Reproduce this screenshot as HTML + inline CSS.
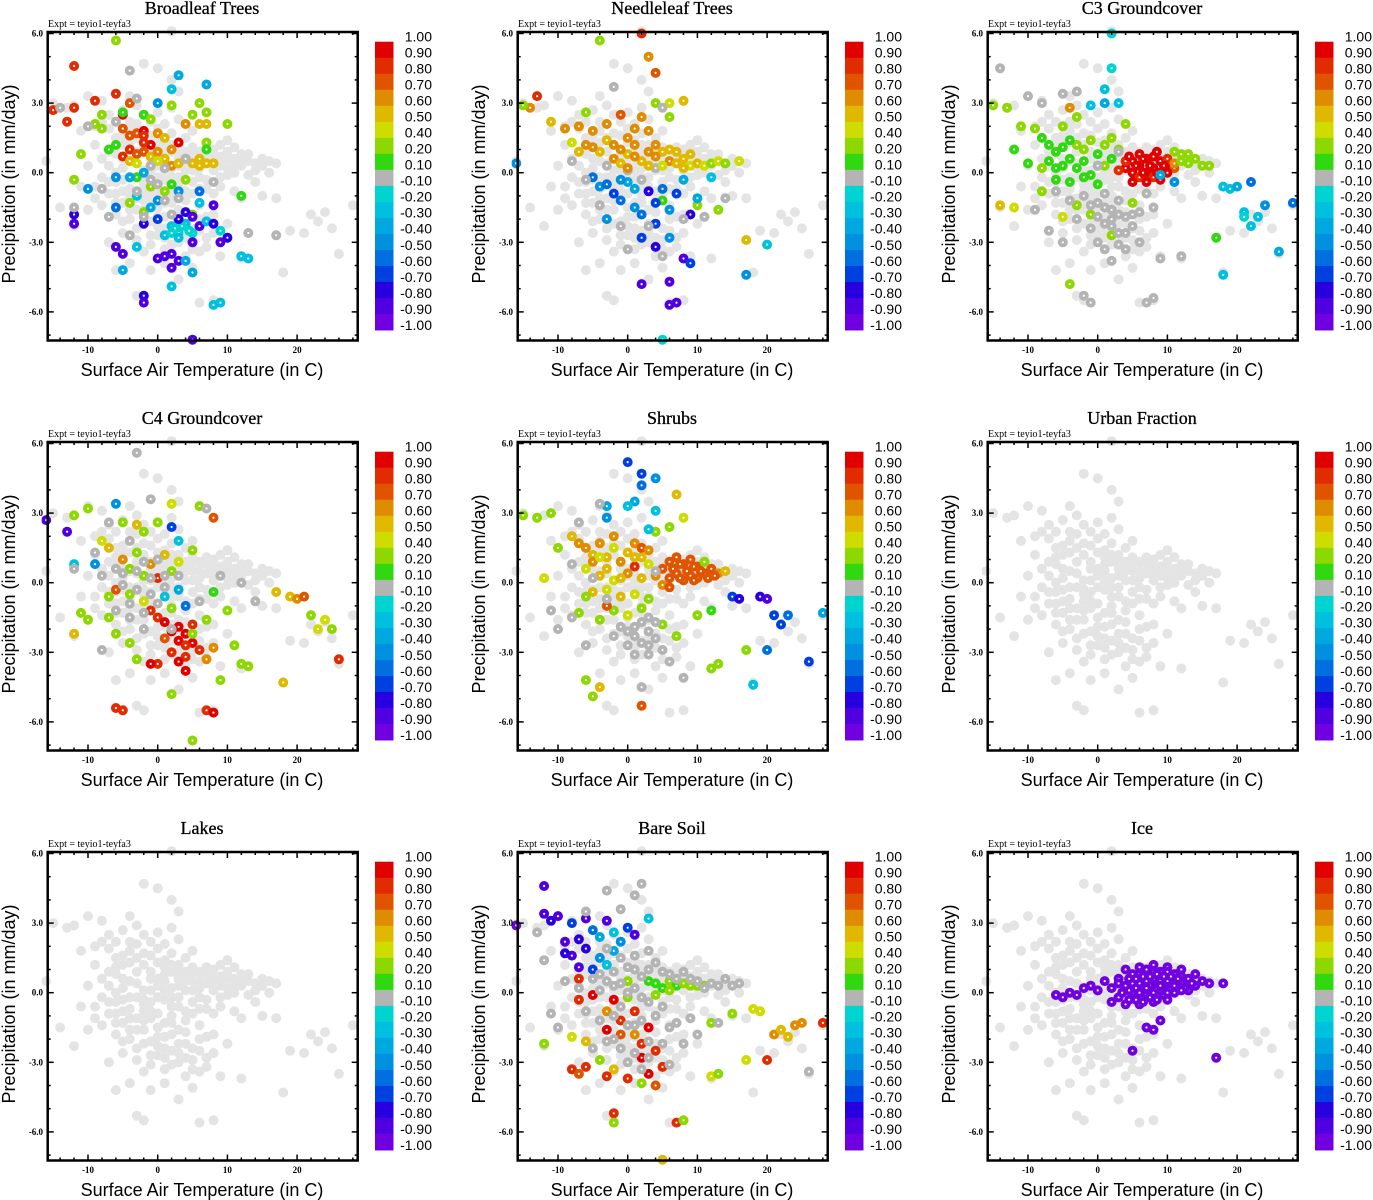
<!DOCTYPE html>
<html><head><meta charset="utf-8">
<style>
html,body{margin:0;padding:0;background:#fff;}
svg{display:block;}
</style></head>
<body>
<svg id="fig" width="1373" height="1200" viewBox="0 0 1373 1200" xmlns="http://www.w3.org/2000/svg"></svg>
<script>
// ---------- data ----------
const panelTitles = ["Broadleaf Trees","Needleleaf Trees","C3 Groundcover","C4 Groundcover","Shrubs","Urban Fraction","Lakes","Bare Soil","Ice"];
const xTicks = [-10,0,10,20];
const yTicks = [6.0,3.0,0.0,-3.0,-6.0];
const yTickLabels = ["6.0","3.0","0.0","-3.0","-6.0"];
const cbarLabels = ["1.00","0.90","0.80","0.70","0.60","0.50","0.40","0.20","0.10","-0.10","-0.20","-0.30","-0.40","-0.50","-0.60","-0.70","-0.80","-0.90","-1.00"];
const cbarLevels = [1.0,0.9,0.8,0.7,0.6,0.5,0.4,0.2,0.1,-0.1,-0.2,-0.3,-0.4,-0.5,-0.6,-0.7,-0.8,-0.9,-1.0];
const cbarColors = ["#e00000","#e02c00","#e05400","#e08c00","#e0b800","#cedc00","#8cd800","#30d810","#b4b4b4","#00d4d0","#00c0e0","#00a8e0","#0090e0","#0070e0","#0040e0","#2800e0","#5000e0","#7000e0"];

// shared background cloud [temp, precip]
const cloud = [[-15,3],[-13,2.8],[-12,2.9],[-10,3.3],[-8,3.1],[-11,1.8],[-9,2],[-7,2.5],[-6,2.2],[-5,2.7],[-4,3.3],[-3,2.9],[-2,4.7],[0,4.5],[2,4],[2,6.1],[3,3.5],[-6,1.5],[-5,1.2],[-4,1.8],[-3,1.5],[-2,1.2],[-1,1.6],[0,1.9],[1,1.4],[2,1.7],[3,1.2],[4,1.5],[5,1.1],[6,0.9],[7,0.8],[8,1],[9,0.7],[10,0.9],[11,0.6],[12,0.8],[13,0.5],[14,0.4],[15,0.3],[16,0.5],[17,0.4],[-8,0.6],[-7,0.3],[-6,0.8],[-5,0.2],[-4,0.5],[-3,0.9],[-2,0.1],[-1,0.6],[0,0.3],[1,0.8],[2,0.2],[3,0.6],[4,0.1],[5,0.5],[6,0.2],[7,0.4],[8,0.1],[9,0.3],[10,0.2],[11,0],[12,0.3],[13,-0.1],[14,-0.4],[-9,-0.6],[-7,-0.4],[-6,-0.9],[-5,-0.3],[-4,-0.7],[-3,-0.2],[-2,-0.8],[-1,-0.4],[0,-0.9],[1,-0.3],[2,-0.6],[3,-0.2],[4,-0.8],[5,-0.4],[6,-0.7],[7,-0.3],[8,-0.9],[9,-0.6],[11,-0.8],[12,-1.1],[15,-1],[17,-1.1],[19,-2.5],[21,-2.6],[22,-1.8],[23,-2.1],[24,-1.7],[25,-2.4],[26,-3.5],[28,-1.4],[18,-4.3],[12,-3.7],[-8,-1.4],[-6,-1.8],[-5,-1.3],[-4,-2],[-3,-1.6],[-2,-1.2],[-1,-2.1],[0,-1.5],[1,-1.9],[2,-1.3],[3,-2.2],[4,-1.7],[5,-2.4],[6,-1.4],[7,-1.9],[8,-2.6],[10,-2.2],[-12,-2.3],[-10,-1.6],[-7,-3],[-5,-2.6],[-3,-2.9],[-2,-3.4],[0,-2.7],[1,-3.3],[2,-2.5],[3,-3],[4,-3.6],[5,-2.9],[6,-3.4],[7,-2.8],[9,-3.6],[-4,-3.9],[-1,-4.2],[1,-3.9],[3,-4.6],[5,-4.1],[6,-5.6],[8,-5.5],[-2,-5.5],[-3,-5.3],[-6,-4.2],[-14,-1.5],[-16,0.5],[-1,0.9],[1,1.1],[3,0.3],[5,0.8],[-2,-0.3],[0,-0.2],[2,-1],[4,-1.2],[-1,-1.1],[1,-2.4],[3,-1.6],[-4,-1.1],[6,0.5],[8,0.6],[10,0.6],[12,0.5],[9,1.2],[11,1.1],[-6,0],[-8,-0.2]];
// extra density in the core of the cloud
const cloudCore = [[-7,1.9],[-5,1.6],[-3,2.1],[-1,2.2],[1,2.1],[3,2.3],[5,1.8],[-6,1.1],[-4,1.3],[-2,1.7],[0,1.3],[2,1.2],[4,0.9],[-7,0.9],[-5,0.6],[-3,0.4],[-1,0.1],[1,0.5],[3,0.9],[5,0.1],[7,1.1],[9,0.5],[11,0.3],[13,0.8],[15,0.6],[-6,-0.4],[-4,-0.2],[-2,-0.5],[0,0.6],[2,-0.2],[4,0.5],[6,-0.2],[8,0.3],[10,-0.1],[-7,-0.9],[-5,-0.8],[-3,-1.1],[-1,-0.8],[1,-1.3],[3,-0.6],[5,-0.9],[7,-0.7],[9,-0.2],[-6,-1.3],[-4,-1.6],[-2,-1.6],[0,-1.9],[2,-1.8],[4,-2.2],[6,-2],[8,-1.8],[-5,-2.1],[-3,-2.4],[-1,-2.7],[1,-2.8],[3,-2.6],[5,-3.3],[7,-3.2],[-2,-2.2],[0,-2.3],[2,-3.1],[4,-2.8],[6,-2.5],[-1,-3.1],[1,0.1],[2,0.9],[-4,2.2],[-2,2.5],[0,2.6],[2,2.8],[-8,2.2],[-9,1.2],[-10,0.3],[-11,-0.6],[-9,-1.1],[14,0.1],[16,0],[10,1.4]];

// colored points per panel [temp, precip, correlation]
const p1 = [[-15,2.7,.8],[-12,4.6,.8],[-12,2.8,.8],[-13,2.2,.8],[-9,3.1,.8],[-6,3.4,.8],[-5,2.5,.9],[-4,3,.7],[-5,1.9,.7],[-4,1.6,.7],[-3,1.7,.7],[-2,1.8,.9],[-1,1.2,.9],[-2,1.6,.8],[-4,1,.8],[-3,0.8,.7],[-5,0.7,.8],[-2,0.9,.7],[0,1.7,.6],[1,1.5,.5],[2,1,.6],[3,1.3,.9],[4,2.1,.6],[-1,0.7,.5],[0,0.9,.6],[1,0.6,.5],[2,0.3,.6],[5,0.4,.5],[6,0.3,.5],[7,0.4,.5],[8,0.4,.5],[6,0.6,.5],[6,2.1,.5],[7,2.1,.5],[-4,0.5,.5],[-3,0.4,.4],[-1,0.3,.5],[0,0.5,.45],[3,0.4,.5],[4,0.6,.5],[-2,1.3,.8],[-6,5.7,.3],[-8,2.5,.2],[-9,2.1,.2],[-8,1.9,.2],[-11,0.8,.2],[-7,1,.15],[-6,1.2,.15],[-5,2.6,.15],[-2,2.5,.15],[-1,2.3,.2],[2,2.9,.3],[6,3,.3],[5,2.5,.3],[7,2.6,.2],[7,1.3,.3],[7,1,.15],[10,2.1,.3],[12,-1,.15],[-12,-0.3,.2],[-3,-0.2,.15],[-1,-0.6,.2],[1,-0.8,.2],[2,-0.5,.15],[4,-0.3,.2],[5,-1.8,.3],[6,-2.3,.15],[3,-2,.3],[-4,-1.3,.3],[-2,-1.7,.3],[-10,-0.7,-.5],[-12,-2.2,-.9],[-12,-1.8,-.8],[-6,-1.5,-.6],[-4,-0.2,-.4],[-3,-1,-.3],[-2,-2.2,-.8],[-1,-1.5,-.4],[0,-1.2,-.5],[0,-2,-.7],[1,-2.7,-.3],[2,-2.3,-.3],[3,-2.6,-.2],[4,-2.2,-.3],[5,-2.6,-.2],[2.5,-2.4,-.2],[3.5,-2.3,-.2],[4.5,-2.5,-.2],[2,-2.6,-.2],[3,-2.8,-.25],[3,-2,-.8],[4,-1.7,-.8],[5,-1.9,-.9],[6,-2.3,-.9],[5,-3,-.9],[6,-1.3,-.3],[7,-2.1,-.3],[8,-2.2,-.8],[8,-1.4,-.9],[10,-2.8,-.8],[9,-3,-.9],[9,-2.5,-.2],[12,-3.6,-.3],[13,-3.7,-.3],[-6,-3.2,-.9],[-5,-3.5,-.9],[-3,-3.2,-.3],[-5,-4.2,-.4],[0,-3.7,-.9],[1,-3.6,-.9],[2,-3.5,-.9],[2,-4.1,-.9],[3,-3.8,-.9],[4,-3.8,-.4],[5,-4.3,-.4],[2,-4.9,-.3],[-2,-5.3,-.8],[-2,-5.6,-.9],[8,-5.7,-.3],[9,-5.6,-.3],[5,-7.2,-.9],[-2,0,-.4],[-6,-0.2,-.5],[3,4.2,-.4],[7,3.8,-.4],[0,3,-.5],[3,-0.8,-.5],[6,-0.8,-.6],[2,3.6,-.3],[-4,4.4,0],[-3,3.2,0],[-14,2.8,0],[-10,2,0],[-6,2.2,0],[-12,-1.5,0],[-7,-1.9,0],[-8,-0.7,0],[-4,-2.7,0],[-3,-0.8,0],[-1,-0.3,0],[1,-1.2,0],[2,-1.8,0],[3,-1.1,0],[1,0.2,0],[-1,0.3,0],[4,0.6,0],[8,-0.4,0],[13,-2.6,0],[17,-2.7,0],[-2,-1.9,0],[0,-0.5,0]];
const p2 = [[-14,2.8,.6],[-13,3.3,.8],[-11,2.2,.5],[-9,1.9,.6],[-7,2,.6],[-5,1.8,.6],[-3,2.1,.6],[-1,2.5,.7],[0,1.5,.6],[1,1.9,.6],[2,2.4,.6],[3,1.8,.6],[4,1.2,.6],[5,0.9,.5],[-6,1.2,.6],[-4,0.9,.5],[-2,0.6,.6],[0,0.8,.5],[2,0.5,.5],[3,0.9,.6],[6,0.5,.6],[7,0.4,.5],[8,0.6,.5],[9,0.3,.4],[10,0.4,.5],[11,0.3,.4],[12,0.4,.3],[13,0.5,.4],[14,0.4,.3],[16,0.5,.4],[-8,1.3,.4],[-6,2.6,.2],[-4,5.7,.2],[2,6,.8],[3,5,.6],[4,4.3,.7],[6,3,.4],[4,3,.2],[6,2.4,.3],[8,3.1,.5],[-15,2.9,.2],[17,-2.9,.5],[10,-1.4,.3],[13,-1.6,.3],[5,-1.2,.15],[-16,0.4,-.5],[-5,-0.2,-.6],[-4,-0.6,-.5],[-2,-0.9,-.7],[-1,-1.2,-.6],[0,-0.4,-.4],[1,-1.5,-.5],[2,-1.8,-.6],[3,-0.8,-.8],[4,-1.3,-.7],[5,-0.7,-.6],[6,-1.6,-.5],[7,-0.9,-.7],[8,-0.3,-.4],[9,-1.8,-.8],[2,-2.8,-.7],[4,-2.2,-.7],[4,-3.2,-.8],[6,-2.8,-.5],[8,-3.7,-.9],[9,-3.9,-.7],[6,-4.7,-.9],[2,-4.8,-.9],[6,-5.7,-.9],[7,-5.6,-.9],[5,-7.2,-.2],[17,-4.4,-.5],[20,-3.1,-.3],[12,-0.2,-.3],[-3,-2,-.5],[10,-1.1,-.4],[-8,0.5,0],[-6,-0.3,0],[-3,0.3,0],[0,0.1,0],[2,-0.3,0],[4,0.2,0],[-4,-1.4,0],[-1,-2.3,0],[3,-2.3,0],[5,-3.6,0],[0,-3.3,0],[-2,3.7,0],[5,2.8,0],[11,-1.9,0],[14,-1.1,0],[8,-2,0],[-1,1,.6],[1,1.2,.6],[-3,1.4,.5],[5,0.3,.4],[7,0.9,.5],[9,0.8,.5],[-5,1.1,.6],[-2,1.2,.6],[1,0.7,.6],[3,0.3,.5],[4,0.7,.6],[6,1,.5],[8,0.2,.5],[-1,0.4,.5],[-7,0.9,.5],[0,0.2,.6],[-3,-0.5,-.6],[-1,-0.3,-.5],[1,-0.7,-.4]];
const p3 = [[4,0.2,.9],[5,0.5,.9],[6,0.3,.9],[7,0.6,.9],[8,0.2,.9],[9,0.5,.9],[10,0.3,.9],[5,0,.9],[7,0,.9],[9,0,.9],[6,0.8,.9],[8,0.7,.9],[4,0.5,.8],[3,0.1,.8],[10,0.6,.8],[11,0.2,.7],[11,0.4,.6],[6,-0.2,.8],[8,-0.2,.8],[5.5,0.3,.9],[7.5,0.3,.9],[9.5,0.3,.9],[4.5,0.7,.9],[6.5,0.6,.9],[8.5,0.9,.9],[5,-0.4,.9],[7,-0.4,.9],[9,-0.3,.9],[10,0,.9],[6.5,0,.9],[8.5,0,.9],[-15,2.9,.2],[-13,2.8,.3],[-11,2,.3],[-9,1.9,.2],[-8,1.5,.15],[-7,1.2,.15],[-6,0.9,.15],[-5,1.1,.15],[-4,0.6,.15],[-3,0.2,.15],[-2,0.5,.15],[-1,1.4,.2],[0,0.8,.15],[1,1.2,.2],[2,0.6,.15],[3,1,.3],[-6,-0.3,.15],[-4,-0.4,.15],[-2,-0.2,.15],[0,-0.5,.15],[-8,0.2,.2],[-10,0.4,.15],[-12,1,.15],[-5,2,.3],[-3,2.4,.2],[4,2.1,.2],[12,0.5,.2],[13,0.4,.2],[15,0.3,.2],[16,0.3,.3],[-3,-1.4,.2],[-8,-0.8,.2],[5,-1.3,.2],[-1,-1.8,.2],[2,-2.7,.2],[-5,-1.9,.4],[-14,-1.4,.5],[-12,-1.5,.4],[-4,-4.8,.2],[17,-2.8,.15],[-4,2.8,.6],[-7,0.5,.15],[-5,0.3,.15],[-3,1.2,.2],[1,0.3,.3],[12,0.8,.3],[14,0.6,.3],[-6,0.2,.15],[-4,1.4,.15],[-2,1,.2],[0,0.3,.15],[2,1.5,.2],[-1,-0.1,.15],[13,0.8,.3],[11,0.9,.3],[2,6,-.2],[2,4.5,-.2],[1,3.6,-.3],[3,3,-.3],[9,-0.1,-.4],[11,-0.4,-.5],[18,-0.6,-.3],[19,-0.7,-.3],[20,-0.6,-.4],[22,-0.4,-.6],[21,-1.7,-.3],[21,-1.9,-.2],[22,-2.3,-.3],[23,-1.9,-.3],[24,-1.4,-.5],[26,-3.4,-.4],[18,-4.4,-.3],[28,-1.3,-.6],[-1,2.9,-.3],[1,3,-.4],[-14,4.5,0],[-10,3.3,0],[-8,3,0],[-5,3.4,0],[-3,3.5,0],[-6,-0.8,0],[-4,-1.2,0],[-2,-1,0],[0,-1.3,0],[1,-0.9,0],[2,-1.6,0],[3,-1.2,0],[4,-1.9,0],[5,-2.3,0],[6,-1.7,0],[7,-0.9,0],[8,-1.5,0],[-3,-2,0],[-1,-2.4,0],[0,-3,0],[1,-2.2,0],[3,-2.6,0],[4,-3.3,0],[6,-3,0],[-7,-2.5,0],[-5,-3,0],[-9,-1.6,0],[2,-3.8,0],[9,-3.7,0],[12,-3.6,0],[-2,-5.3,0],[-1,-5.6,0],[7,-5.6,0],[8,-5.4,0],[3,0.9,0],[0,0.3,0],[2,-2,0],[3,-1.8,0],[1,-1.5,0],[4,-2.6,0],[0,-1.9,0],[2,-2.3,0],[3,-3.1,0],[1,-3.3,0],[5,-1.8,0],[-1,-1.4,0]];
const p4 = [[-16,2.7,-.9],[-13,2.2,-.9],[-12,2.9,.3],[-10,3.2,.2],[-6,3.4,-.5],[-5,2.6,.2],[-3,2.5,.5],[-2,2.2,.3],[0,2.6,.2],[2,2.4,-.7],[3,1.8,-.3],[5,1.4,.3],[6,3.3,.3],[-8,1.8,.4],[-7,1.5,.5],[-5,1,.6],[-4,0.6,.3],[-3,1.3,.2],[-1,0.8,.6],[0,0.2,.8],[1,1.2,.5],[2,0.5,.3],[3,0.9,.4],[-9,0.8,-.5],[-12,0.8,-.3],[-11,-1.3,.2],[-12,-2.2,.5],[-10,-1.6,.2],[-6,-0.3,.7],[-4,-0.5,.2],[-2,-0.8,.4],[-1,-1.2,.8],[0,-1.5,.8],[1,-1.7,.9],[2,-1.1,.3],[3,-1.9,.9],[4,-2.2,.9],[5,-1.8,.8],[3,-2.5,.9],[5,-2.6,.9],[6,-2.9,.8],[2,-3,.8],[4,-3.2,.8],[7,-3.3,.6],[8,-2.8,.6],[4,-3.8,.9],[0,-3.5,.8],[-1,-3.5,.9],[-3,-3.3,.3],[-4,-2.6,.2],[-6,-2.2,.2],[-7,-1.5,.3],[7,-1.6,.2],[8,-0.4,.15],[10,-1.2,.3],[11,-2.7,.3],[12,-3.5,.3],[13,-3.6,.2],[17,-0.4,.5],[19,-0.6,.5],[20,-0.7,.6],[21,-0.6,.7],[22,-1.4,.3],[23,-2,.4],[24,-1.6,.4],[25,-2,.3],[26,-3.3,.8],[18,-4.3,.5],[9,-4.2,.3],[2,-4.8,.3],[7,-5.5,.8],[8,-5.6,.9],[-6,-5.4,.8],[-5,-5.5,.8],[5,-6.8,.3],[2,3.4,.4],[8,2.8,.7],[3,-0.3,-.4],[4,-1,-.6],[1,-0.6,-.3],[2,-2.1,.9],[4,-2.7,.8],[3,-3.4,.9],[1,-2.4,.7],[5,-2.2,.2],[-2,0.3,.3],[-5,0.4,.2],[-7,-0.6,.2],[-7,2.6,0],[-4,1.8,0],[-2,0.9,0],[0,1,0],[1,0.3,0],[-5,-0.1,0],[-3,-0.3,0],[-1,-0.5,0],[-6,-1.2,0],[-4,-1.5,0],[-2,-2,0],[-3,5.6,0],[-1,3.6,0],[7,3.2,0],[-12,0.6,0],[-9,1.3,0],[2,-2,0],[-8,-2.9,0],[6,-0.8,0],[9,0.3,0],[12,0,0],[14,-0.8,0],[-5,0.4,0],[-3,0.5,0],[-1,0.2,0],[1,-0.2,0],[3,0.3,0],[-4,-0.9,0],[-2,-1.3,0],[0,-0.9,0],[-6,0.6,0],[-8,0.3,0]];
const p5 = [[5,0.6,.7],[6,0.9,.7],[7,0.4,.7],[8,0.8,.7],[9,0.3,.7],[10,0.7,.7],[11,0.4,.7],[12,0.6,.7],[6,0.2,.7],[8,0.1,.7],[10,0.2,.7],[7,1.1,.7],[9,1,.7],[11,0.9,.6],[13,0.4,.6],[14,0.5,.5],[5,-0.1,.6],[4,0.3,.6],[6.5,0.6,.7],[8.5,0.5,.7],[10.5,0.5,.7],[7.5,0.2,.7],[9.5,0.1,.7],[11.5,0.2,.7],[7.5,0.8,.7],[9.5,0.7,.7],[12.5,0.3,.7],[6,-0.2,.7],[-15,2.9,.2],[-13,2.8,.2],[-11,3,.2],[-8,2,.5],[-7,1.7,.6],[-6,1.5,.6],[-5,1.2,.5],[-4,1.7,.6],[-3,1.1,.5],[-2,1.5,.4],[-1,0.9,.6],[0,1.3,.5],[1,1.7,.6],[2,1.1,.5],[3,0.8,.4],[-6,0.6,.4],[-4,0.3,.5],[-2,0.1,.4],[0,0.4,.6],[2,0.2,.5],[-5,-0.4,.5],[-3,-0.3,.4],[-1,-0.6,.5],[1,-0.5,.4],[3,-0.7,.3],[-2,-1.2,.3],[0,-1.4,.4],[2,-1.1,.3],[-4,-1.6,.2],[5,-1.8,.2],[7,-2.3,.2],[10,-1.4,.3],[12,-1.2,.15],[-7,-1.3,.2],[-6,-0.6,.3],[-12,0.2,.4],[-10,1.5,.3],[6,2.4,.2],[7,3.8,.5],[8,2.8,.4],[4,2.2,.3],[11,0.9,.3],[12,-3.7,.3],[13,-3.5,.2],[17,-2.9,.2],[-6,-4.2,.3],[-4,-4.5,.5],[-5,-4.9,.3],[2,-5.3,.7],[-3,-1,.7],[1,0.7,.8],[2,1.5,.7],[-5,0.9,.6],[-3,0.6,.5],[-1,0.2,.5],[1,1.1,.5],[3,1.4,.6],[-2,2,.6],[-4,1.1,.4],[-3,3.3,-.4],[1,3.5,-.4],[2,4.2,-.6],[2,4.7,-.7],[0,5.2,-.7],[4,3.1,-.3],[3,2.3,-.3],[-3,2.8,-.5],[15,-0.6,-.7],[16,-0.7,-.8],[19,-0.6,-.8],[20,-0.7,-.9],[21,-1.4,-.7],[22,-1.8,-.7],[23,-1.4,-.6],[20,-2.9,-.6],[26,-3.4,-.7],[18,-4.4,-.3],[28,-1.3,-.4],[0,3.3,-.3],[4,4.5,-.5],[-8,0.8,0],[-5,0.2,0],[-3,-0.7,0],[-1,-1.9,0],[1,-1.9,0],[3,-1.5,0],[4,-2.4,0],[2,-2.6,0],[0,-2.7,0],[-2,-2.3,0],[5,-2.9,0],[3,-3.1,0],[6,-3.4,0],[-8,-1.5,0],[-11,-1.2,0],[-10,-2,0],[-6,-2.7,0],[-7,2.6,0],[-4,3.4,0],[2,-4.5,0],[8,-4.1,0],[4,0.5,0],[1,-2.3,0],[3,-2.1,0],[2,-1.7,0],[0,-2.1,0],[4,-1.7,0],[1,-3.1,0],[3,-2.7,0]];
const p6 = [];
const p7 = [];
const p8 = [[-16,2.9,-1],[-12,4.6,-.9],[-11,3.1,-.8],[-10,3.3,-.9],[-9,2.2,-.9],[-8,3,-.7],[-7,2.3,-.8],[-6,3.2,-.9],[-5,2.7,-.6],[-4,2.4,-.4],[-3,3.1,-.9],[-2,2.6,-.3],[-1,2.2,-.5],[0,2.8,-.7],[1,2.5,-.9],[3,3.2,-.3],[-8,1.6,-.9],[-6,1.9,-.8],[-4,1.5,-.5],[-3,1.2,-.3],[-5,1,-.7],[-7,1.1,-.9],[-9,1.7,-.8],[-2,1.8,-.4],[-12,3.4,-.9],[-12,-2.2,.3],[-7,-0.3,.8],[-5,-0.1,.9],[-3,-0.8,.6],[-2,-0.3,.9],[-1,-1.2,.8],[0,-0.2,.3],[1,-0.8,.8],[-3,-1.6,.9],[-1,-1.8,.7],[1,-1.8,.6],[2,-2.2,.8],[3,-1.5,.9],[4,-2.5,.8],[2,-2.8,.9],[-4,-2.9,.3],[-2,-3.3,.5],[-6,-3.2,.8],[-8,-3.3,.8],[-7,-3.5,.7],[-3,-3.6,.8],[0,-3.7,.8],[3,-3.5,.9],[5,-3.2,.8],[2,-3.9,.3],[4,-4,.7],[-2,-5.2,.8],[-2,-5.6,.3],[7,-5.6,.8],[8,-5.5,.3],[5,-7.2,.5],[3,0.5,.15],[4,0.4,.15],[5,0.2,.15],[6,0.5,.2],[7,0.3,.15],[8,0.4,.2],[9,0.3,.2],[10,0.3,.2],[4,-0.1,.2],[6,0.1,.2],[11,0.3,.3],[-8,-1.9,.4],[-6,-2.1,.5],[0,0.5,.2],[12,-1.3,.3],[20,-2.9,.8],[21,-1.8,.6],[22,-1.6,.5],[18,-0.7,.4],[19,-0.8,.4],[24,-1.4,.6],[23,-1.9,.5],[25,-1.3,.6],[28,-1.3,.8],[12,-3.6,.4],[13,-3.5,.3],[17,-2.9,.4],[15,-0.9,.3],[-7,0.6,.8],[-13,2.6,0],[-12,1.4,0],[-9,0.5,0],[-7,0.2,0],[-5,0.6,0],[-4,0.1,0],[-3,0.5,0],[-2,0.9,0],[-1,0.4,0],[0,1.1,0],[1,0.2,0],[2,0.7,0],[2,-0.2,0],[3,1,0],[4,1.3,0],[5,0.9,0],[6,0.8,0],[7,0.6,0],[8,0.9,0],[9,0.6,0],[10,0.5,0],[11,0.2,0],[12,0.4,0],[13,0.3,0],[14,0.6,0],[15,0.3,0],[16,0.4,0],[-6,-0.8,0],[-4,-1.2,0],[-2,-1,0],[0,-1.4,0],[2,-1.2,0],[4,-1,0],[6,-1.5,0],[-1,-2.4,0],[1,-2.6,0],[3,-2.1,0],[5,-2.2,0],[7,-1.3,0],[-5,-2.4,0],[-3,-2.1,0],[0,-3,0],[2,-3.3,0],[-3,4.4,0],[-1,3.6,0],[2,4.7,0],[1,4.2,0],[-6,3.5,0],[6,-3.1,0],[8,-2.2,0],[10,-1.8,0],[-10,-1.5,0],[-11,-0.9,0],[26,-3.4,0],[13,-1.3,0],[9,-1.1,0],[-1,1.5,0],[1,1.6,0],[3,1.8,0],[-3,1.9,0],[5,-0.6,0],[3,-0.4,0],[-4,0.8,0],[-2,0.3,0],[0,0,0],[1,1,0],[-1,-0.6,0],[1,-1.4,0],[3,-2.8,0],[-2,-2,0]];
const p9 = [[-6,-0.1,-.95],[-5,-0.2,-.95],[-4,0,-.95],[-3,-0.1,-.95],[-2,0.2,-.95],[-1,0.3,-.95],[0,0.1,-.95],[1,0.5,-.95],[2,0.2,-.95],[3,0.6,-.95],[4,0.3,-.95],[5,0.8,-.95],[6,0.4,-.95],[7,1,-.95],[8,0.6,-.95],[9,0.9,-.95],[10,0.5,-.95],[11,0.8,-.95],[12,0.4,-.95],[13,0.6,-.95],[14,0.3,-.95],[15,0.5,-.95],[16,0.4,-.95],[18,0.4,-.95],[3,-0.2,-.95],[5,0,-.95],[7,-0.1,-.95],[9,0.1,-.95],[11,0,-.95],[13,0.1,-.95],[4,1,-.95],[6,1.1,-.95],[8,1.2,-.95],[10,1.1,-.95],[12,1,-.95],[6,-0.5,-.95],[8,-0.4,-.95],[10,-0.3,-.95],[4,-0.5,-.95],[2,-0.4,-.95],[5,0.4,-.95],[7,0.5,-.95],[9,0.5,-.95],[11,0.5,-.95],[6,0.8,-.95],[8,0.9,-.95],[10,0.9,-.95],[3,0.4,-.95],[7,-1.5,-.95],[9,-1.2,-.95],[8,-1.6,-.95],[5,-2.5,-.95],[17,-2.8,-.95],[14,0.8,-.95],[12,0.7,-.95],[4.5,0.1,-.95],[5.5,0.2,-.95],[6.5,0.2,-.95],[7.5,0.3,-.95],[8.5,0.2,-.95],[9.5,0.3,-.95],[10.5,0.2,-.95],[11.5,0.3,-.95],[6.5,0.7,-.95],[8.5,0.8,-.95],[10.5,0.7,-.95],[5.5,-0.3,-.95],[7.5,-0.2,-.95],[9.5,-0.1,-.95],[12.5,0.2,-.95],[13.5,0.4,-.95],[4.5,0.6,-.95],[5.5,0.6,-.95],[7.5,0.7,-.95],[9.5,0.7,-.95],[11.5,0.6,-.95],[6,0,-.95],[8,0,-.95],[10,0,-.95],[12,0.1,-.95],[3.5,0,-.95],[4.5,-0.3,-.95],[6.5,-0.4,-.95],[8.5,-0.3,-.95],[7,0.2,-.95],[9,0.3,-.95],[11,0.3,-.95]];
const panelPoints = [p1,p2,p3,p4,p5,p6,p7,p8,p9];

// ---------- drawing ----------
const NS = "http://www.w3.org/2000/svg";
const svg = document.getElementById('fig');
function mk(tag, attrs, parent){ const e=document.createElementNS(NS,tag); for(const k in attrs) e.setAttribute(k,attrs[k]); (parent||svg).appendChild(e); return e; }
function colorFor(v){ for(let i=0;i<cbarColors.length;i++){ if(v>=cbarLevels[i+1]) return cbarColors[i]; } return cbarColors[cbarColors.length-1]; }

const FL=47.7, FR=357.7, FT=32, FB=340.5;
function xScale(t){ return 157.7 + t*6.97; }
function yScale(p){ return 172.7 - p*23.2; }
const R = 5;

panelTitles.forEach((title, idx) => {
  const col = idx%3, row = Math.floor(idx/3);
  const g = mk('g', {transform:`translate(${col*470},${row*410})`});
  
  

  const tt = mk('text', {x:202, y:14, 'text-anchor':'middle', 'font-family':'"Liberation Serif", serif', 'font-size':'18', fill:'#000', stroke:'#000', 'stroke-width':0.3}, g);
  tt.textContent = title;
  
  

  const ex = mk('text', {x:48, y:27, 'font-family':'"Liberation Serif", serif', 'font-size':'10', fill:'#000'}, g);
  ex.textContent = 'Expt = teyio1-teyfa3';
  
  

  const cid = 'clip'+idx;
  const cp = mk('clipPath', {id:cid}, g);
  mk('rect', {x:FL-6, y:FT-8, width:FR-FL+12, height:FB-FT+14}, cp);
  const pts = mk('g', {'clip-path':`url(#${cid})`}, g);
  
  

  cloud.concat(cloudCore).forEach(d => {
    const c = mk('circle', {cx:xScale(d[0]).toFixed(1), cy:yScale(d[1]).toFixed(1), r:R, fill:'#e4e4e4'}, pts);
    
    
  });
  panelPoints[idx].forEach(d => {
    const cx = xScale(d[0]).toFixed(1), cy = yScale(d[1]).toFixed(1);
    const c = mk('circle', {cx:cx, cy:cy, r:R, fill:colorFor(d[2])}, pts);
    
    
    mk('circle', {cx:cx, cy:cy, r:1.1, fill:'#fff'}, pts);
  });

  const fr = mk('rect', {x:FL, y:FT, width:FR-FL, height:FB-FT, fill:'none', stroke:'#000', 'stroke-width':2.5}, g);
  
  

  for(let t=-15;t<=28;t++){
    const x=xScale(t); const major = xTicks.includes(t); const L = major?6:3;
    if(t%2!==0 && !major) continue;
    mk('line', {x1:x, x2:x, y1:FB, y2:FB-L, stroke:'#000','stroke-width':1.5}, g);
    mk('line', {x1:x, x2:x, y1:FT, y2:FT+L, stroke:'#000','stroke-width':1.5}, g);
  }
  for(let p=-7;p<=6;p+=1){
    const y=yScale(p); const major = (p%3===0); const L = major?6:3;
    mk('line', {x1:FL, x2:FL+L, y1:y, y2:y, stroke:'#000','stroke-width':1.5}, g);
    mk('line', {x1:FR, x2:FR-L, y1:y, y2:y, stroke:'#000','stroke-width':1.5}, g);
  }
  xTicks.forEach(t => {
    const tx = mk('text', {x:xScale(t), y:353, 'text-anchor':'middle', 'font-family':'"Liberation Serif", serif', 'font-size':'9', 'font-weight':'bold', fill:'#000'}, g);
    tx.textContent = String(t);
    
    
  });
  yTicks.forEach((p,i) => {
    const ty = mk('text', {x:43, y:yScale(p)+3, 'text-anchor':'end', 'font-family':'"Liberation Serif", serif', 'font-size':'9', 'font-weight':'bold', fill:'#000'}, g);
    ty.textContent = yTickLabels[i];
    
    
  });

  const xl = mk('text', {x:202, y:376, 'text-anchor':'middle', 'font-family':'"Liberation Sans", sans-serif', 'font-size':'18', fill:'#000'}, g);
  xl.textContent = 'Surface Air Temperature (in C)';
  
  
  const yl = mk('text', {x:0, y:0, transform:'translate(15,184) rotate(-90)', 'text-anchor':'middle', 'font-family':'"Liberation Sans", sans-serif', 'font-size':'18', fill:'#000'}, g);
  yl.textContent = 'Precipitation (in mm/day)';
  
  

  const cb = mk('g', {}, g);
  
  
  const cbTop = 41.7, bandH = 16.02;
  cbarColors.forEach((c,i) => {
    const r = mk('rect', {x:375, y:(cbTop+i*bandH).toFixed(2), width:18.5, height:bandH+0.4, fill:c}, cb);
    
    
  });
  cbarLabels.forEach((s,i) => {
    const tx = mk('text', {x:432, y:(cbTop + i*bandH - 0.2).toFixed(2), 'text-anchor':'end', 'font-family':'"Liberation Sans", sans-serif', 'font-size':'14', fill:'#000'}, cb);
    tx.textContent = s;
    
    
  });
});
</script>
</body></html>
